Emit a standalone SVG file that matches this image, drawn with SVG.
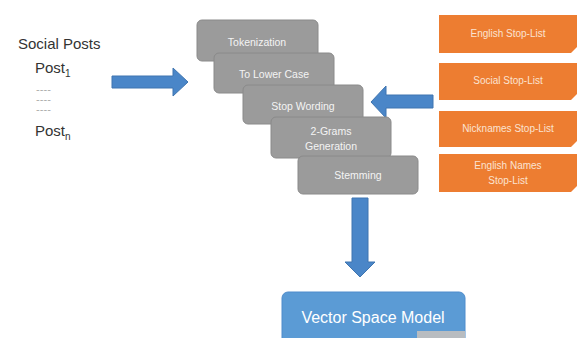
<svg xmlns="http://www.w3.org/2000/svg" width="578" height="338" viewBox="0 0 578 338">
<style>
.lbl{font-family:"Liberation Sans","Open Sans",sans-serif;fill:#333;font-size:15px}
.dash{font-family:"Liberation Sans",sans-serif;font-size:7px;fill:#888}
.g rect{fill:#9b9b9b;stroke:#8a8a8a;stroke-width:1}
.g text{font-family:"Liberation Sans",sans-serif;font-size:10.5px;fill:#f4f4f4;text-anchor:middle}
.o path{fill:#ed7d31}
.o text{font-family:"Liberation Sans",sans-serif;font-size:10px;fill:#fbe3d2;text-anchor:middle}
.arr{fill:#4a86c8;stroke:#3f75b0;stroke-width:1}
</style>
<rect width="578" height="338" fill="#ffffff"/>
<g id="social-posts">
<text class="lbl" x="18" y="49">Social Posts</text>
<text class="lbl" x="35" y="73">Post<tspan font-size="10" dy="4">1</tspan></text>
<text class="dash" x="36" y="92" textLength="15" lengthAdjust="spacingAndGlyphs">----</text>
<text class="dash" x="36" y="102" fill="#bbb" textLength="15" lengthAdjust="spacingAndGlyphs">----</text>
<text class="dash" x="36" y="112" textLength="15" lengthAdjust="spacingAndGlyphs">----</text>
<text class="lbl" x="35" y="136">Post<tspan font-size="10" dy="4">n</tspan></text>
</g>
<g id="connectors">
<path class="arr" d="M112,76 H173 V68 L188,82 L173,96 V88 H112 Z"/>
<path class="arr" d="M433,95 H386 V86 L371,102 L386,118 V108 H433 Z"/>
<path class="arr" d="M352,198 H368 V262 H375 L360,277 L345,262 H352 Z"/>
</g>
<g class="g">
<g id="tokenization"><rect x="197" y="20" width="121" height="41" rx="5"/><text x="257" y="46">Tokenization</text></g>
<g id="lower-case"><rect x="214" y="53" width="120" height="40" rx="5"/><text x="274" y="78">To Lower Case</text></g>
<g id="stop-wording"><rect x="243" y="85" width="120" height="39" rx="5"/><text x="303" y="110">Stop Wording</text></g>
<g id="two-grams"><rect x="271" y="117" width="120" height="41" rx="5"/><text x="331" y="135">2-Grams</text><text x="331" y="150">Generation</text></g>
<g id="stemming"><rect x="298" y="156" width="120" height="38" rx="5"/><text x="358" y="179">Stemming</text></g>
</g>
<g class="o">
<g id="english-stop"><path d="M439,15 H577 V47 L571,53 H439 Z"/><text x="508" y="37">English Stop-List</text></g>
<g id="social-stop"><path d="M439,63 H577 V94 L571,100 H439 Z"/><text x="508" y="84">Social Stop-List</text></g>
<g id="nicknames-stop"><path d="M439,111 H577 V141 L571,147 H439 Z"/><text x="508" y="132">Nicknames Stop-List</text></g>
<g id="names-stop"><path d="M439,154 H577 V186 L571,192 H439 Z"/><text x="508" y="169">English Names</text><text x="508" y="184">Stop-List</text></g>
</g>
<g id="vsm">
<rect x="282" y="292" width="183" height="56" rx="6" fill="#5b9bd5" stroke="#4f8ccc"/>
<text x="373" y="323" font-family="Liberation Sans,sans-serif" font-size="16" fill="#ffffff" text-anchor="middle">Vector Space Model</text>
<rect x="417" y="331" width="48" height="7" fill="#b8bcc0"/>
</g>
</svg>
